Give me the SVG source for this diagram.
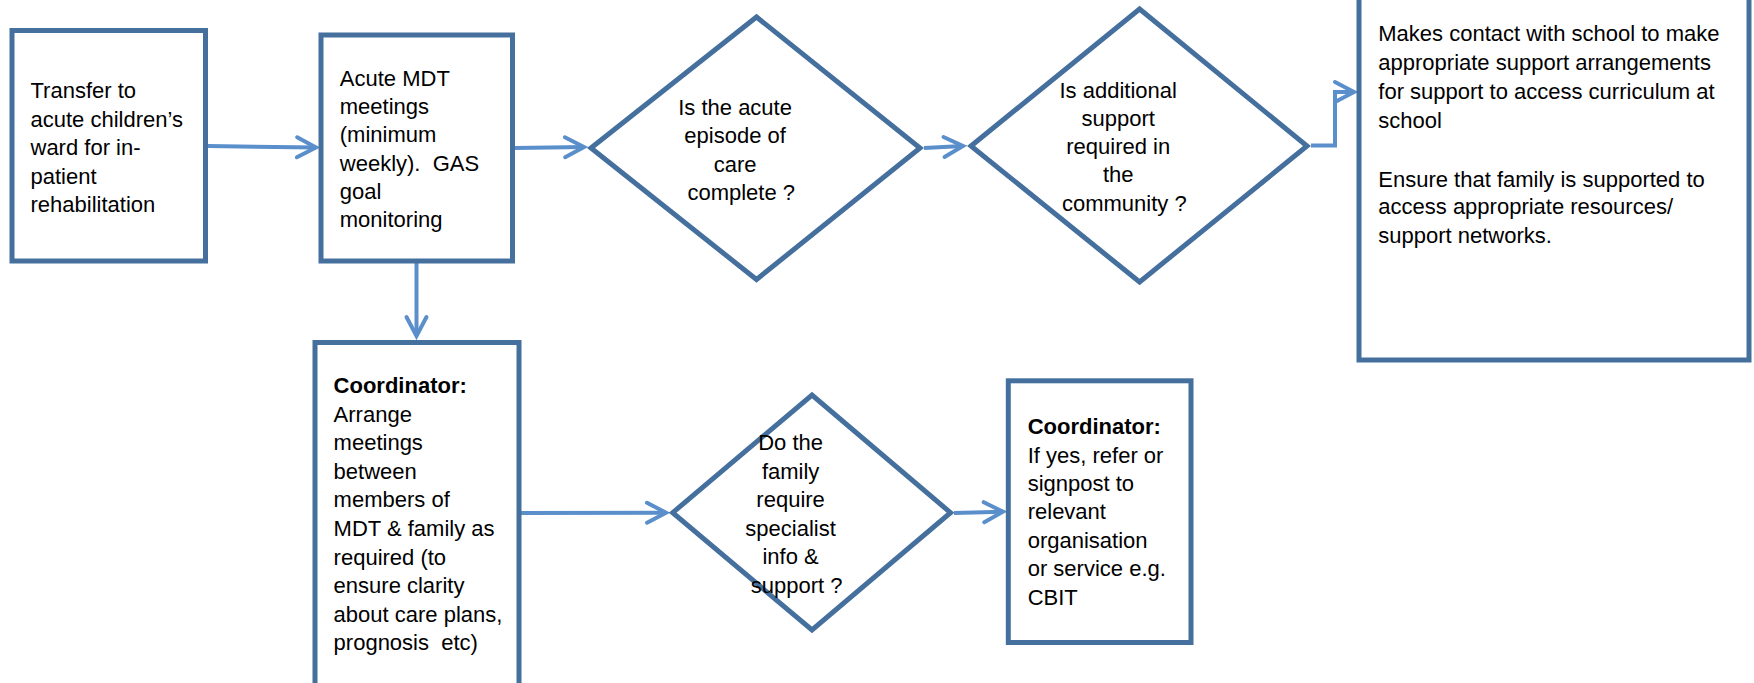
<svg xmlns="http://www.w3.org/2000/svg" width="1754" height="683" viewBox="0 0 1754 683">
  <style>
    .box { fill: #ffffff; stroke: #45709E; stroke-width: 5; }
    .dia { fill: #ffffff; stroke: #45709E; stroke-width: 5; stroke-linejoin: miter; }
    .t { font-family: "Liberation Sans", Arial, sans-serif; font-size: 22px; fill: #000000; white-space: pre; }
    .b { font-weight: bold; }
    .c { text-anchor: middle; }
    .con { fill: none; stroke: #5A8FCB; stroke-width: 4; marker-end: url(#arr); }
  </style>
  <defs>
    <marker id="arr" markerUnits="userSpaceOnUse" viewBox="-26 -14 30 28" refX="0" refY="0" markerWidth="30" markerHeight="28" orient="auto" overflow="visible">
      <path d="M-19,-10 L0,0 L-19,10" fill="none" stroke="#5A8FCB" stroke-width="4" stroke-linecap="round" stroke-linejoin="miter"/>
    </marker>
  </defs>
  <rect width="1754" height="683" fill="#ffffff"/>

  <g id="connectors">
    <path class="con" d="M208,146 L316,147.5"/>
    <path class="con" d="M514.5,148 L584,147"/>
    <path class="con" d="M924,148 L963,146"/>
    <path class="con" d="M1311,145.5 H1335 V92 H1354"/>
    <path class="con" d="M416.5,263 V336"/>
    <path class="con" d="M521,513 L666,512.7"/>
    <path class="con" d="M954,513 L1003,511.7"/>
  </g>

  <g id="node-transfer">
    <rect class="box" x="12" y="30.5" width="193.5" height="230.5"/>
    <text class="t" x="30.5">
      <tspan x="30.5" y="98.3">Transfer to</tspan>
      <tspan x="30.5" y="126.8">acute children’s</tspan>
      <tspan x="30.5" y="155.3">ward for in-</tspan>
      <tspan x="30.5" y="183.8">patient</tspan>
      <tspan x="30.5" y="212.3">rehabilitation</tspan>
    </text>
  </g>

  <g id="node-mdt">
    <rect class="box" x="321" y="35" width="191.5" height="226"/>
    <text class="t">
      <tspan x="339.8" y="86">Acute MDT</tspan>
      <tspan x="339.8" y="114.2">meetings</tspan>
      <tspan x="339.8" y="142.4">(minimum</tspan>
      <tspan x="339.8" y="170.6">weekly).  GAS</tspan>
      <tspan x="339.8" y="198.8">goal</tspan>
      <tspan x="339.8" y="227">monitoring</tspan>
    </text>
  </g>

  <g id="node-acute-complete">
    <polygon class="dia" points="591,148 756.5,17 920,148 756.5,279.5"/>
    <text class="t c">
      <tspan x="756.5" y="115">Is the acute</tspan>
      <tspan x="756.5" y="143.3">episode of</tspan>
      <tspan x="756.5" y="171.6">care</tspan>
      <tspan x="756.5" y="199.9">complete ?</tspan>
    </text>
  </g>

  <g id="node-additional-support">
    <polygon class="dia" points="971,146 1139.6,9 1307,146 1139.6,282"/>
    <text class="t c">
      <tspan x="1139.6" y="97.5">Is additional</tspan>
      <tspan x="1139.6" y="125.8">support</tspan>
      <tspan x="1139.6" y="154.1">required in</tspan>
      <tspan x="1139.6" y="182.4">the</tspan>
      <tspan x="1139.6" y="210.7">community ?</tspan>
    </text>
  </g>

  <g id="node-school">
    <rect class="box" x="1359" y="-10" width="390" height="370"/>
    <text class="t">
      <tspan x="1378.3" y="41">Makes contact with school to make</tspan>
      <tspan x="1378.3" y="70">appropriate support arrangements</tspan>
      <tspan x="1378.3" y="99">for support to access curriculum at</tspan>
      <tspan x="1378.3" y="128">school</tspan>
      <tspan x="1378.3" y="187">Ensure that family is supported to</tspan>
      <tspan x="1378.3" y="214">access appropriate resources/</tspan>
      <tspan x="1378.3" y="243">support networks.</tspan>
    </text>
  </g>

  <g id="node-coordinator-meetings">
    <rect class="box" x="315" y="342.5" width="204" height="360"/>
    <text class="t">
      <tspan class="b" x="333.6" y="393">Coordinator:</tspan>
      <tspan x="333.6" y="421.6">Arrange</tspan>
      <tspan x="333.6" y="450.2">meetings</tspan>
      <tspan x="333.6" y="478.8">between</tspan>
      <tspan x="333.6" y="507.4">members of</tspan>
      <tspan x="333.6" y="536">MDT &amp; family as</tspan>
      <tspan x="333.6" y="564.6">required (to</tspan>
      <tspan x="333.6" y="593.2">ensure clarity</tspan>
      <tspan x="333.6" y="621.8">about care plans,</tspan>
      <tspan x="333.6" y="650.4">prognosis  etc)</tspan>
    </text>
  </g>

  <g id="node-family-info">
    <polygon class="dia" points="672.7,512.7 812,395 950.5,512.7 812,630"/>
    <text class="t c">
      <tspan x="812" y="450">Do the</tspan>
      <tspan x="812" y="478.5">family</tspan>
      <tspan x="812" y="507">require</tspan>
      <tspan x="812" y="535.5">specialist</tspan>
      <tspan x="812" y="564">info &amp;</tspan>
      <tspan x="812" y="592.5">support ?</tspan>
    </text>
  </g>

  <g id="node-coordinator-refer">
    <rect class="box" x="1008.3" y="380.8" width="182.7" height="261.7"/>
    <text class="t">
      <tspan class="b" x="1027.7" y="434">Coordinator:</tspan>
      <tspan x="1027.7" y="462.5">If yes, refer or</tspan>
      <tspan x="1027.7" y="491">signpost to</tspan>
      <tspan x="1027.7" y="519">relevant</tspan>
      <tspan x="1027.7" y="547.5">organisation</tspan>
      <tspan x="1027.7" y="576">or service e.g.</tspan>
      <tspan x="1027.7" y="604.5">CBIT</tspan>
    </text>
  </g>
</svg>
